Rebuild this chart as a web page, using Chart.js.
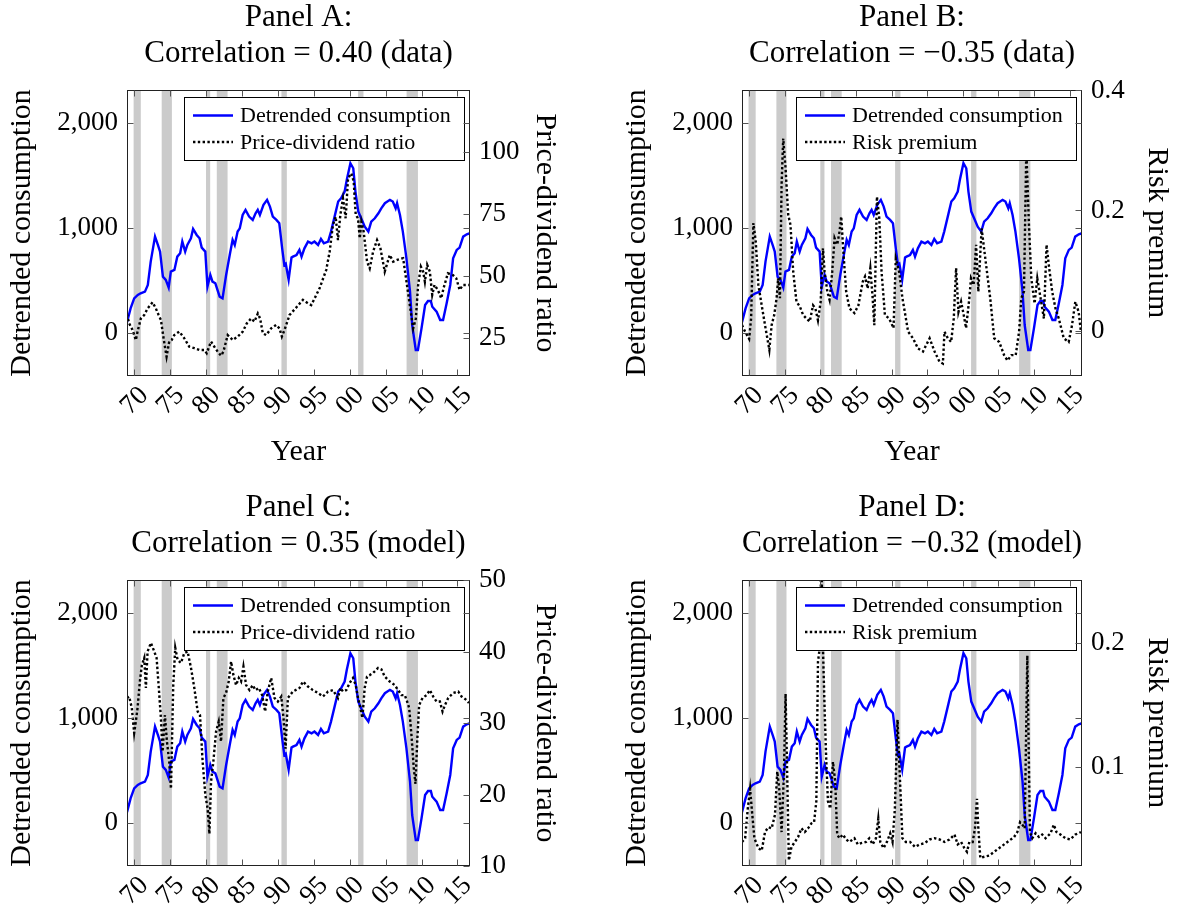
<!DOCTYPE html>
<html lang="en">
<head>
  <meta charset="utf-8">
  <title>Detrended consumption, price-dividend ratio and risk premium</title>
  <meta name="viewport" content="width=device-width, initial-scale=1">
  <script src="https://cdn.jsdelivr.net/npm/chart.js@4.4.1/dist/chart.umd.min.js"></script>
  <style>
    html, body { margin: 0; padding: 0; background: #fff; overflow: hidden; }
    body { width: 1177px; height: 909px; position: relative; }
    canvas { position: absolute; }
  </style>
</head>
<body>

  <canvas id="panelA" width="567" height="474" style="left:0px;top:0px"></canvas>
  <canvas id="panelB" width="564" height="474" style="left:615px;top:0px"></canvas>
  <canvas id="panelC" width="567" height="474" style="left:0px;top:490px"></canvas>
  <canvas id="panelD" width="564" height="474" style="left:615px;top:490px"></canvas>

<script>
// ---- data ----
var yearTicks = [1970, 1975, 1980, 1985, 1990, 1995, 2000, 2005, 2010, 2015];
var consTicks = [0, 1000, 2000];

// NBER recessions (shaded)
var recessionStart = [1969.92, 1973.83, 1980.0, 1981.5, 1990.5, 2001.17, 2007.92];
var recessionEnd   = [1970.92, 1975.25, 1980.58, 1983.0, 1991.25, 2001.92, 2009.5];

// detrended consumption (same in all panels)
var consYears = [1969.0, 1969.5, 1970.0, 1970.5, 1970.9, 1971.5, 1971.9, 1972.3, 1972.9, 1973.3,
  1973.6, 1974.0, 1974.4, 1974.8, 1975.1, 1975.6, 1976.0, 1976.4, 1976.7, 1977.1,
  1977.4, 1977.9, 1978.2, 1978.7, 1979.1, 1979.4, 1979.9, 1980.2, 1980.6, 1980.9,
  1981.3, 1981.9, 1982.3, 1982.8, 1983.3, 1983.7, 1984.0, 1984.4, 1984.7, 1985.1,
  1985.5, 1986.0, 1986.5, 1986.9, 1987.2, 1987.5, 1988.0, 1988.5, 1988.9, 1989.3,
  1989.8, 1990.2, 1990.6, 1990.9, 1991.1, 1991.5, 1991.9, 1992.1, 1992.6, 1993.0,
  1993.3, 1993.7, 1994.2, 1994.7, 1995.1, 1995.6, 1996.0, 1996.4, 1997.0, 1997.4,
  1997.9, 1998.4, 1998.8, 1999.3, 1999.6, 2000.1, 2000.5, 2000.8, 2001.2, 2001.6,
  2002.1, 2002.6, 2003.0, 2003.5, 2004.0, 2004.4, 2004.9, 2005.6, 2006.0, 2006.4,
  2006.6, 2007.0, 2007.4, 2007.9, 2008.4, 2008.7, 2009.2, 2009.5, 2010.0, 2010.5,
  2010.9, 2011.3, 2011.5, 2012.1, 2012.6, 2013.0, 2013.5, 2014.0, 2014.4, 2014.9,
  2015.3, 2015.8, 2016.3, 2016.75];
var consValues = [105, 237, 332, 364, 380, 396, 459, 681, 918, 839,
  776, 538, 507, 434, 586, 602, 728, 760, 871, 776,
  839, 902, 991, 934, 902, 814, 776, 443, 554, 491,
  475, 348, 332, 554, 744, 887, 839, 966, 997, 1124,
  1172, 1108, 1077, 1140, 1172, 1124, 1219, 1267, 1203, 1108,
  1077, 1045, 807, 649, 660, 510, 720, 728, 744, 792,
  728, 807, 871, 855, 871, 839, 896, 855, 871, 966,
  1108, 1251, 1282, 1346, 1457, 1615, 1567, 1346, 1156, 1092,
  1013, 966, 1061, 1092, 1140, 1187, 1235, 1267, 1251, 1187,
  1235, 1124, 966, 712, 396, 79, -158, -158, 47, 269,
  307, 307, 253, 206, 127, 127, 285, 459, 712, 792,
  814, 918, 940, 950];

// Panel A: price-dividend ratio (data)
var pdDataYears = [1969.0, 1969.3, 1969.77, 1970.23, 1970.47, 1970.93, 1971.4, 1971.86, 1972.56, 1973.02,
  1973.4, 1973.72, 1974.09, 1974.51, 1974.88, 1975.21, 1975.58, 1976.28, 1976.98, 1977.67,
  1978.37, 1979.07, 1979.77, 1980.09, 1980.7, 1981.16, 1981.63, 1982.09, 1982.42, 1983.02,
  1983.72, 1984.42, 1985.12, 1985.67, 1986.28, 1986.74, 1987.21, 1987.53, 1987.91, 1988.37,
  1989.07, 1989.77, 1990.23, 1990.56, 1990.93, 1991.63, 1992.56, 1993.49, 1994.19, 1994.65,
  1995.12, 1995.81, 1996.74, 1997.21, 1997.67, 1998.05, 1998.37, 1998.7, 1999.07, 1999.44,
  1999.77, 2000.23, 2000.56, 2000.84, 2001.16, 2001.4, 2001.63, 2001.95, 2002.42, 2002.79,
  2003.26, 2003.81, 2004.28, 2004.88, 2005.58, 2006.05, 2006.6, 2007.44, 2007.91, 2008.37,
  2008.84, 2009.21, 2009.53, 2009.91, 2010.23, 2010.47, 2010.79, 2011.16, 2011.49, 2011.81,
  2012.28, 2012.74, 2013.07, 2013.67, 2014.37, 2014.84, 2015.3, 2015.77, 2016.6];
var pdDataValues = [34.7, 31, 28.4, 24.3, 27.7, 33, 34.4, 37, 39.5, 37,
  34.4, 32.4, 25, 17.6, 23.7, 24.3, 26.3, 27.7, 25, 21.6,
  21, 20.3, 20.3, 19, 23.7, 21.6, 19.6, 18, 19.6, 26.3,
  24.3, 25.7, 27.7, 31, 33, 31.7, 35, 33, 27, 26.3,
  29, 30.4, 29, 25.7, 28.4, 34.4, 37.4, 40.5, 39.1, 38.4,
  41.1, 45.2, 52.6, 59.9, 70.7, 74, 64.6, 74.7, 81.4, 73.4,
  89.5, 91.5, 88.2, 74.7, 73.4, 65.3, 72, 68, 55.9, 53.2,
  59.9, 64.6, 61.3, 51.9, 58.6, 55.9, 56.6, 57.3, 47.8, 38.4,
  29, 33, 46.5, 53.9, 51.9, 47.8, 54.6, 51.9, 42.5, 46.5,
  44.5, 41.1, 45.2, 51.2, 50.5, 49.2, 44.5, 46.5, 46.5];

// Panel B: risk premium (data)
var rpDataYears = [1969.0, 1969.44, 1970.0, 1970.28, 1970.6, 1970.93, 1971.3, 1971.77, 1972.23, 1972.84,
  1973.16, 1973.53, 1973.86, 1974.09, 1974.33, 1974.56, 1974.79, 1975.12, 1975.49, 1975.81,
  1976.19, 1976.65, 1977.12, 1977.58, 1978.05, 1978.51, 1978.98, 1979.3, 1979.67, 1980.05,
  1980.37, 1980.6, 1980.98, 1981.3, 1981.67, 1982.0, 1982.37, 1982.7, 1982.93, 1983.3,
  1983.63, 1984.09, 1984.79, 1985.35, 1985.95, 1986.28, 1986.65, 1987.02, 1987.35, 1987.58,
  1987.95, 1988.28, 1988.6, 1989.07, 1989.67, 1990.28, 1990.6, 1991.07, 1991.53, 1991.86,
  1992.33, 1993.02, 1993.72, 1994.42, 1994.88, 1995.35, 1996.05, 1996.74, 1997.21, 1997.44,
  1997.91, 1998.37, 1998.74, 1999.07, 1999.4, 1999.77, 2000.14, 2000.47, 2000.93, 2001.16,
  2001.53, 2001.88, 2002.19, 2002.65, 2002.93, 2003.4, 2003.86, 2004.42, 2005.12, 2005.81,
  2006.28, 2006.84, 2007.44, 2007.91, 2008.23, 2008.6, 2008.93, 2009.3, 2009.63, 2010.09,
  2010.47, 2010.93, 2011.4, 2011.77, 2012.09, 2012.56, 2013.02, 2013.49, 2014.19, 2014.88,
  2015.35, 2015.81, 2016.28, 2016.6];
var rpDataValues = [0.009, -0.002, -0.014, 0.02, 0.179, 0.148, 0.076, 0.042, 0.009, -0.032,
  0.009, 0.026, 0.054, 0.087, 0.054, 0.243, 0.32, 0.27, 0.193, 0.176,
  0.098, 0.048, 0.04, 0.026, 0.02, 0.015, 0.042, 0.037, 0.017, 0.048,
  0.137, 0.098, 0.065, 0.051, 0.098, 0.154, 0.143, 0.165, 0.19, 0.12,
  0.065, 0.037, 0.029, 0.042, 0.081, 0.09, 0.07, 0.104, 0.054, 0.009,
  0.223, 0.187, 0.098, 0.026, 0.02, 0.004, 0.12, 0.098, 0.054, 0.031,
  -0.002, -0.013, -0.03, -0.035, -0.024, -0.013, -0.035, -0.052, -0.055, -0.002,
  -0.013, -0.019, 0.02, 0.104, 0.031, 0.048, 0.026, 0.004, 0.054, 0.087,
  0.076, 0.143, 0.065, 0.17, 0.143, 0.098, 0.054, -0.013, -0.019, -0.041,
  -0.05, -0.041, -0.041, -0.002, 0.054, 0.065, 0.3, 0.176, 0.087, 0.045,
  0.087, 0.054, 0.02, 0.143, 0.109, 0.065, 0.037, 0.02, -0.013, -0.019,
  0.009, 0.048, 0.031, -0.002];

// Panel C: price-dividend ratio (model)
var pdModelYears = [1969.0, 1969.3, 1969.67, 1970.0, 1970.23, 1970.47, 1970.79, 1971.07, 1971.4, 1971.63,
  1971.86, 1972.33, 1972.79, 1973.12, 1973.4, 1973.72, 1973.95, 1974.28, 1974.56, 1974.88,
  1975.12, 1975.44, 1975.72, 1976.05, 1976.51, 1976.98, 1977.44, 1977.91, 1978.37, 1978.84,
  1979.16, 1979.53, 1979.91, 1980.23, 1980.47, 1980.7, 1981.02, 1981.4, 1981.77, 1982.09,
  1982.42, 1982.79, 1983.16, 1983.49, 1983.81, 1984.19, 1984.56, 1984.88, 1985.21, 1985.58,
  1986.05, 1986.51, 1986.88, 1987.35, 1987.81, 1988.23, 1988.6, 1989.07, 1989.53, 1990.0,
  1990.47, 1990.79, 1991.07, 1991.4, 1992.09, 1993.02, 1993.49, 1994.19, 1994.88, 1995.58,
  1996.28, 1996.98, 1997.67, 1998.37, 1998.7, 1999.07, 1999.53, 2000.0, 2000.47, 2000.84,
  2001.16, 2001.49, 2001.77, 2002.09, 2002.42, 2002.79, 2003.26, 2003.95, 2004.42, 2004.88,
  2005.58, 2006.28, 2006.74, 2007.21, 2007.67, 2008.0, 2008.28, 2008.6, 2008.93, 2009.16,
  2009.4, 2009.67, 2010.14, 2010.7, 2011.16, 2011.63, 2012.09, 2012.56, 2012.93, 2013.26,
  2013.72, 2014.42, 2015.12, 2015.58, 2016.28, 2016.6];
var pdModelValues = [33.5, 33.7, 32.1, 28.6, 30.2, 32.1, 35.8, 38.1, 39.1, 34.9,
  40, 41.2, 40, 39.1, 35.3, 30.7, 26, 31.1, 27.4, 24.6,
  20.8, 35.3, 40.5, 38.8, 38.4, 39.8, 40, 37.7, 34.9, 31.6,
  31.1, 24.6, 19.9, 18, 14.5, 21.8, 24.6, 28.8, 30.2, 27.4,
  33.5, 34.2, 35.8, 38.6, 36.7, 35.3, 36.3, 35.8, 37.9, 35.3,
  34.6, 35.3, 34.6, 34.9, 33.9, 31.6, 34.4, 36.3, 33.5, 33,
  33.7, 30.7, 26.4, 33.5, 34.4, 34.9, 35.8, 35.1, 34.6, 34.2,
  33.7, 34.4, 34.6, 33.5, 34.9, 34.4, 34.6, 35.6, 36.3, 35.3,
  33.5, 32.1, 30.7, 34.9, 36.5, 36.7, 37, 37.7, 37.5, 36.5,
  35.8, 35.3, 34.6, 33.9, 33.9, 33, 32.1, 28.3, 23.6, 21.5,
  27.4, 32.5, 33.5, 33.9, 34.6, 33.7, 33, 33, 31.6, 32.5,
  33.5, 34.2, 34.4, 33.7, 33.2, 32.8];

// Panel D: risk premium (model)
var rpModelYears = [1969.0, 1969.44, 1969.81, 1970.14, 1970.37, 1970.74, 1971.3, 1971.77, 1972.23, 1972.7,
  1973.16, 1973.63, 1973.95, 1974.23, 1974.56, 1974.88, 1975.12, 1975.35, 1975.58, 1975.95,
  1976.42, 1976.88, 1977.35, 1977.81, 1978.28, 1978.74, 1979.12, 1979.44, 1979.67, 1979.91,
  1980.14, 1980.37, 1980.6, 1980.84, 1981.07, 1981.4, 1981.77, 1982.09, 1982.37, 1982.7,
  1983.16, 1983.63, 1984.09, 1984.79, 1985.26, 1985.72, 1986.42, 1986.88, 1987.35, 1987.81,
  1988.14, 1988.42, 1988.88, 1989.35, 1989.81, 1990.14, 1990.47, 1990.84, 1991.16, 1991.53,
  1992.0, 1992.6, 1993.3, 1993.95, 1994.65, 1995.35, 1996.05, 1996.74, 1997.44, 1998.14,
  1998.84, 1999.3, 1999.77, 2000.23, 2000.6, 2000.93, 2001.4, 2001.72, 2002.0, 2002.19,
  2002.47, 2003.02, 2003.72, 2004.42, 2005.35, 2006.28, 2007.21, 2007.67, 2008.05, 2008.37,
  2008.7, 2009.07, 2009.44, 2009.77, 2010.23, 2010.7, 2011.16, 2011.63, 2012.33, 2012.79,
  2013.16, 2013.72, 2014.42, 2015.12, 2015.81, 2016.6];
var rpModelValues = [0.039, 0.042, 0.066, 0.082, 0.066, 0.042, 0.034, 0.032, 0.047, 0.051,
  0.05, 0.061, 0.096, 0.082, 0.047, 0.093, 0.159, 0.093, 0.024, 0.035,
  0.039, 0.043, 0.05, 0.047, 0.05, 0.054, 0.055, 0.072, 0.185, 0.196,
  0.27, 0.196, 0.147, 0.104, 0.072, 0.066, 0.104, 0.088, 0.045, 0.042,
  0.045, 0.041, 0.039, 0.042, 0.037, 0.038, 0.039, 0.042, 0.037, 0.042,
  0.058, 0.039, 0.034, 0.039, 0.046, 0.039, 0.066, 0.138, 0.093, 0.042,
  0.039, 0.039, 0.035, 0.037, 0.038, 0.041, 0.042, 0.041, 0.039, 0.041,
  0.045, 0.037, 0.039, 0.034, 0.031, 0.039, 0.039, 0.05, 0.074, 0.05,
  0.026, 0.027, 0.028, 0.031, 0.035, 0.039, 0.043, 0.047, 0.055, 0.053,
  0.05, 0.19, 0.047, 0.042, 0.046, 0.043, 0.045, 0.042, 0.046, 0.053,
  0.047, 0.045, 0.042, 0.041, 0.045, 0.047];

// ---- drawing ----
Chart.defaults.font.family = '"Liberation Serif", "Times New Roman", serif';
Chart.defaults.color = '#000';

var FONT = '"Liberation Serif", "Times New Roman", serif';

function zip(xs, ys) {
  var out = [];
  for (var i = 0; i < xs.length; i++) out.push({x: xs[i], y: ys[i]});
  return out;
}

// shaded recessions, white legend box, frame and inward tick marks
var panelDecor = {
  id: 'panelDecor',
  beforeDatasetsDraw: function(chart) {
    var ctx = chart.ctx, a = chart.chartArea, xs = chart.scales.x;
    ctx.save();
    ctx.fillStyle = '#cbcbcb';
    for (var i = 0; i < recessionStart.length; i++) {
      var x0 = xs.getPixelForValue(recessionStart[i]);
      var x1 = xs.getPixelForValue(recessionEnd[i]);
      ctx.fillRect(x0, a.top, x1 - x0, a.bottom - a.top);
    }
    ctx.restore();
  },
  afterDatasetsDraw: function(chart) {
    var ctx = chart.ctx, a = chart.chartArea;
    ctx.save();

    // legend
    var bw = 280, bh = 63;
    var bx = Math.round(a.right - 6 - bw), by = Math.round(a.top + 7);
    ctx.fillStyle = '#fff';
    ctx.fillRect(bx, by, bw, bh);
    ctx.strokeStyle = '#000';
    ctx.lineWidth = 1;
    ctx.strokeRect(bx + 0.5, by + 0.5, bw, bh);
    ctx.font = '22px ' + FONT;
    ctx.textBaseline = 'middle';
    chart.data.datasets.forEach(function(ds, i) {
      var yy = by + 18.5 + i * 26.5;
      ctx.beginPath();
      ctx.setLineDash(ds.borderDash || []);
      ctx.strokeStyle = ds.borderColor;
      ctx.lineWidth = ds.borderWidth;
      ctx.moveTo(bx + 9, yy);
      ctx.lineTo(bx + 49, yy);
      ctx.stroke();
      ctx.setLineDash([]);
      ctx.fillStyle = '#000';
      ctx.fillText(ds.label, bx + 56, yy + 1);
    });

    // frame
    var L = Math.round(a.left) + 0.5, R = Math.round(a.right) - 0.5;
    var T = Math.round(a.top) + 0.5, B = Math.round(a.bottom) - 0.5;
    ctx.strokeStyle = '#222';
    ctx.lineWidth = 1;
    ctx.strokeRect(L, T, R - L, B - T);

    // tick marks pointing inward
    var tl = 6;
    ctx.strokeStyle = '#555';
    ctx.beginPath();
    chart.scales.x.ticks.forEach(function(t) {
      var px = Math.round(chart.scales.x.getPixelForValue(t.value)) + 0.5;
      ctx.moveTo(px, B); ctx.lineTo(px, B - tl);
      ctx.moveTo(px, T); ctx.lineTo(px, T + tl);
    });
    chart.scales.y.ticks.forEach(function(t) {
      var py = Math.round(chart.scales.y.getPixelForValue(t.value)) + 0.5;
      ctx.moveTo(L, py); ctx.lineTo(L + tl, py);
      ctx.moveTo(R, py); ctx.lineTo(R - tl, py);
    });
    chart.scales.y2.ticks.forEach(function(t) {
      var py = Math.round(chart.scales.y2.getPixelForValue(t.value)) + 0.5;
      ctx.moveTo(R, py); ctx.lineTo(R - tl, py);
    });
    ctx.stroke();
    ctx.restore();
  }
};

function makePanel(id, p) {
  var tickFont = {family: FONT, size: 27};
  var titleFont = {family: FONT, size: 30, lineHeight: 1.2};

  new Chart(document.getElementById(id).getContext('2d'), {
    type: 'line',
    data: {
      datasets: [
        {
          label: 'Detrended consumption',
          data: zip(consYears, consValues),
          borderColor: '#0000ff',
          borderWidth: 2.4,
          pointRadius: 0,
          tension: 0,
          yAxisID: 'y',
          order: 1
        },
        {
          label: p.label,
          data: zip(p.years, p.values),
          borderColor: '#000',
          borderWidth: 2.4,
          borderDash: [2.4, 2.4],
          pointRadius: 0,
          tension: 0,
          yAxisID: 'y2',
          order: 0
        }
      ]
    },
    options: {
      responsive: false,
      animation: false,
      events: [],
      layout: {padding: 0},
      plugins: {
        legend: {display: false},
        tooltip: {enabled: false},
        title: {
          display: true,
          text: p.title,
          fullSize: false,
          color: '#000',
          font: {family: FONT, size: 31, weight: 'normal', lineHeight: 36 / 31},
          padding: {top: 0, bottom: 18}
        }
      },
      scales: {
        x: {
          type: 'linear',
          position: 'bottom',
          min: 1969,
          max: 2016.75,
          grid: {display: false, drawTicks: false},
          border: {display: false},
          afterBuildTicks: function(s) { s.ticks = yearTicks.map(function(v) { return {value: v}; }); },
          afterFit: function(s) { s.height = 98; },
          ticks: {
            autoSkip: false,
            minRotation: 45,
            maxRotation: 45,
            padding: 4,
            labelOffset: 10,
            font: tickFont,
            color: '#000',
            callback: function(v) { return String(Math.round(v) % 100).padStart(2, '0'); }
          },
          title: {display: true, text: 'Year', font: titleFont, color: '#000', padding: {top: 0, bottom: 4}}
        },
        y: {
          position: 'left',
          min: -405,
          max: 2310,
          grid: {display: false, drawTicks: false},
          border: {display: false},
          afterBuildTicks: function(s) { s.ticks = consTicks.map(function(v) { return {value: v}; }); },
          afterFit: function(s) { s.width = 127; },
          ticks: {
            padding: 9,
            font: tickFont,
            color: '#000',
            callback: function(v) { return v.toLocaleString('en-US'); }
          },
          title: {display: true, text: 'Detrended consumption', font: titleFont, color: '#000', padding: {top: 4, bottom: 0}}
        },
        y2: {
          position: 'right',
          min: p.min,
          max: p.max,
          grid: {display: false, drawTicks: false},
          border: {display: false},
          afterBuildTicks: function(s) { s.ticks = p.ticks.map(function(v) { return {value: v}; }); },
          afterFit: function(s) { s.width = 97; },
          ticks: {
            padding: 9,
            font: tickFont,
            color: '#000',
            callback: function(v) { return String(v); }
          },
          title: {display: true, text: p.label, font: titleFont, color: '#000', padding: {top: 4, bottom: 0}}
        }
      }
    },
    plugins: [panelDecor]
  });
}

makePanel('panelA', {
  title: ['Panel A:', 'Correlation = 0.40 (data)'],
  label: 'Price-dividend ratio',
  years: pdDataYears, values: pdDataValues,
  min: 9.8, max: 125.1, ticks: [25, 50, 75, 100]
});
makePanel('panelB', {
  title: ['Panel B:', 'Correlation = \u22120.35 (data)'],
  label: 'Risk premium',
  years: rpDataYears, values: rpDataValues,
  min: -0.0758, max: 0.4008, ticks: [0, 0.2, 0.4]
});
makePanel('panelC', {
  title: ['Panel C:', 'Correlation = 0.35 (model)'],
  label: 'Price-dividend ratio',
  years: pdModelYears, values: pdModelValues,
  min: 10, max: 50, ticks: [10, 20, 30, 40, 50]
});
makePanel('panelD', {
  title: ['Panel D:', 'Correlation = \u22120.32 (model)'],
  label: 'Risk premium',
  years: rpModelYears, values: rpModelValues,
  min: 0.0195, max: 0.2513, ticks: [0.1, 0.2]
});
</script>
</body>
</html>
